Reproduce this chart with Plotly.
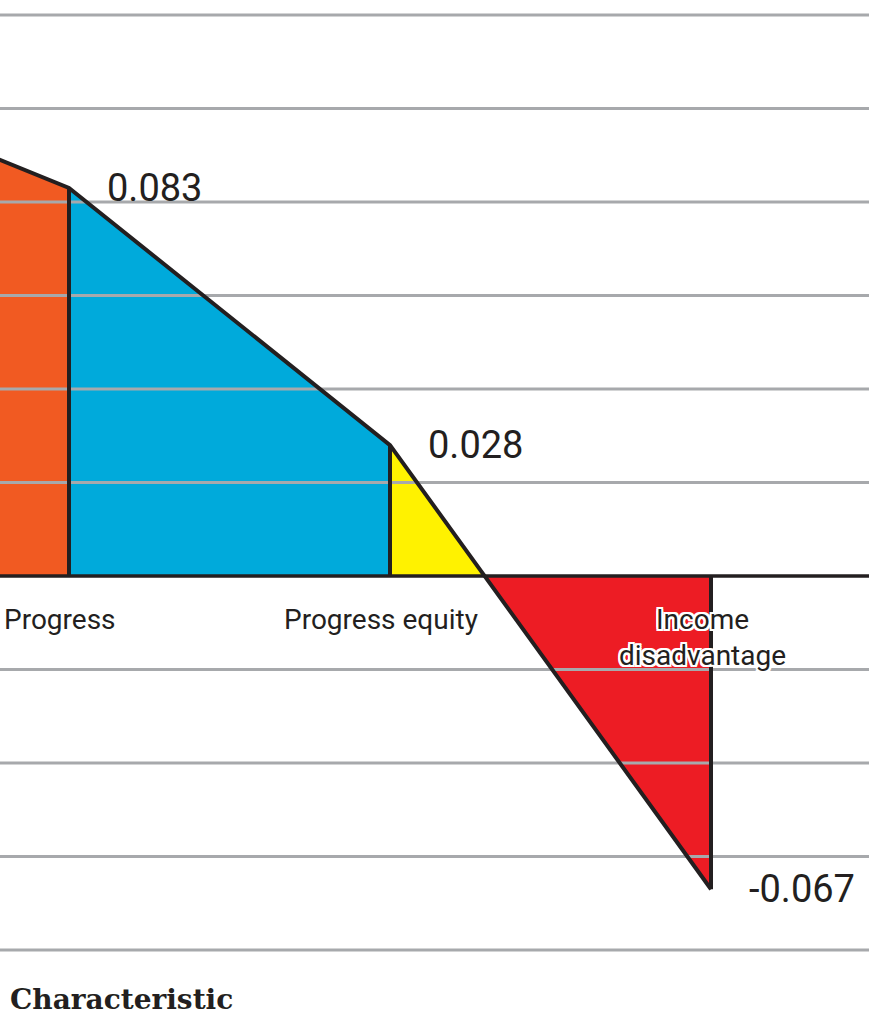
import plotly.graph_objects as go

# ---- data ----
categories = ["(previous)", "Progress", "Progress equity", "Income disadvantage"]
category_labels = ["", "Progress", "Progress equity", "Income<br>disadvantage"]
values = [0.111, 0.083, 0.028, -0.067]
value_labels = ["", "0.083", "0.028", "-0.067"]
segment_colors = ["#f15a22", "#00aadb", "#fff200"]
negative_color = "#ed1c24"
grid_ticks = [0.12, 0.10, 0.08, 0.06, 0.04, 0.02, -0.02, -0.04, -0.06, -0.08]

INK = "#231f20"
GRID = "#a7a9ac"

xs = list(range(len(categories)))
x_range = [1 - 69 / 321, 1 + 800 / 321]
y_range = [-(970 - 576) / 4675, 576 / 4675]

fig = go.Figure()

# filled segments
for i in range(len(values) - 1):
    x0, x1 = xs[i], xs[i + 1]
    v0, v1 = values[i], values[i + 1]
    col = segment_colors[i]
    if v0 * v1 >= 0:
        c = col if (v0 + v1) >= 0 else negative_color
        fig.add_trace(go.Scatter(x=[x0, x0, x1, x1, x0], y=[0, v0, v1, 0, 0],
                                 fill="toself", fillcolor=c, mode="none",
                                 hoverinfo="skip", showlegend=False))
    else:
        xc = x0 + (x1 - x0) * v0 / (v0 - v1)
        c0 = col if v0 > 0 else negative_color
        c1 = col if v1 > 0 else negative_color
        fig.add_trace(go.Scatter(x=[x0, x0, xc, x0], y=[0, v0, 0, 0],
                                 fill="toself", fillcolor=c0, mode="none",
                                 hoverinfo="skip", showlegend=False))
        fig.add_trace(go.Scatter(x=[xc, x1, x1, xc], y=[0, v1, 0, 0],
                                 fill="toself", fillcolor=c1, mode="none",
                                 hoverinfo="skip", showlegend=False))

# gridlines drawn over fills
for t in grid_ticks:
    fig.add_trace(go.Scatter(x=x_range, y=[t, t], mode="lines",
                             line=dict(color=GRID, width=3),
                             hoverinfo="skip", showlegend=False))
# zero line
fig.add_trace(go.Scatter(x=x_range, y=[0, 0], mode="lines",
                         line=dict(color=INK, width=3.5),
                         hoverinfo="skip", showlegend=False))

# outline: profile line + verticals at each category
ox, oy = [], []
for x, v in zip(xs, values):
    ox += [x, x, None]
    oy += [0, v, None]
fig.add_trace(go.Scatter(x=ox, y=oy, mode="lines",
                         line=dict(color=INK, width=4),
                         hoverinfo="skip", showlegend=False))
fig.add_trace(go.Scatter(x=xs, y=values, mode="lines",
                         line=dict(color=INK, width=4),
                         hoverinfo="skip", showlegend=False))

halo = ", ".join(f"white {dx}px {dy}px 0px" for dx, dy in
                 [(2, 0), (-2, 0), (0, 2), (0, -2), (2, 2), (-2, -2), (2, -2), (-2, 2)])

# value labels
for x, v, lab in zip(xs, values, value_labels):
    if lab:
        fig.add_annotation(x=x, y=v, text=lab, showarrow=False,
                           xanchor="left", yanchor="middle", xshift=36,
                           font=dict(family="Roboto", size=38, color=INK))

# category labels
for x, lab in zip(xs, category_labels):
    if lab:
        fig.add_annotation(x=x, y=0, text=lab, showarrow=False,
                           xanchor="center", yanchor="top", yshift=-25, xshift=-9,
                           font=dict(family="Roboto", size=28, color=INK, shadow=halo))

# axis title
fig.add_annotation(x=0, xref="paper", y=0, yref="paper", text="<b>Characteristic</b>",
                   showarrow=False, xanchor="left", yanchor="middle", xshift=8, yshift=-29,
                   font=dict(family="DejaVu Serif", size=28, color=INK))

fig.update_layout(
    width=869, height=1017,
    margin=dict(l=0, r=0, t=0, b=47),
    paper_bgcolor="white", plot_bgcolor="white",
    xaxis=dict(range=x_range, showgrid=False, zeroline=False, showticklabels=False,
               showline=False, fixedrange=True),
    yaxis=dict(range=y_range, showgrid=False, zeroline=False, showticklabels=False,
               showline=False, fixedrange=True),
    showlegend=False,
)

fig.write_html("out.html", config={"displayModeBar": False})
